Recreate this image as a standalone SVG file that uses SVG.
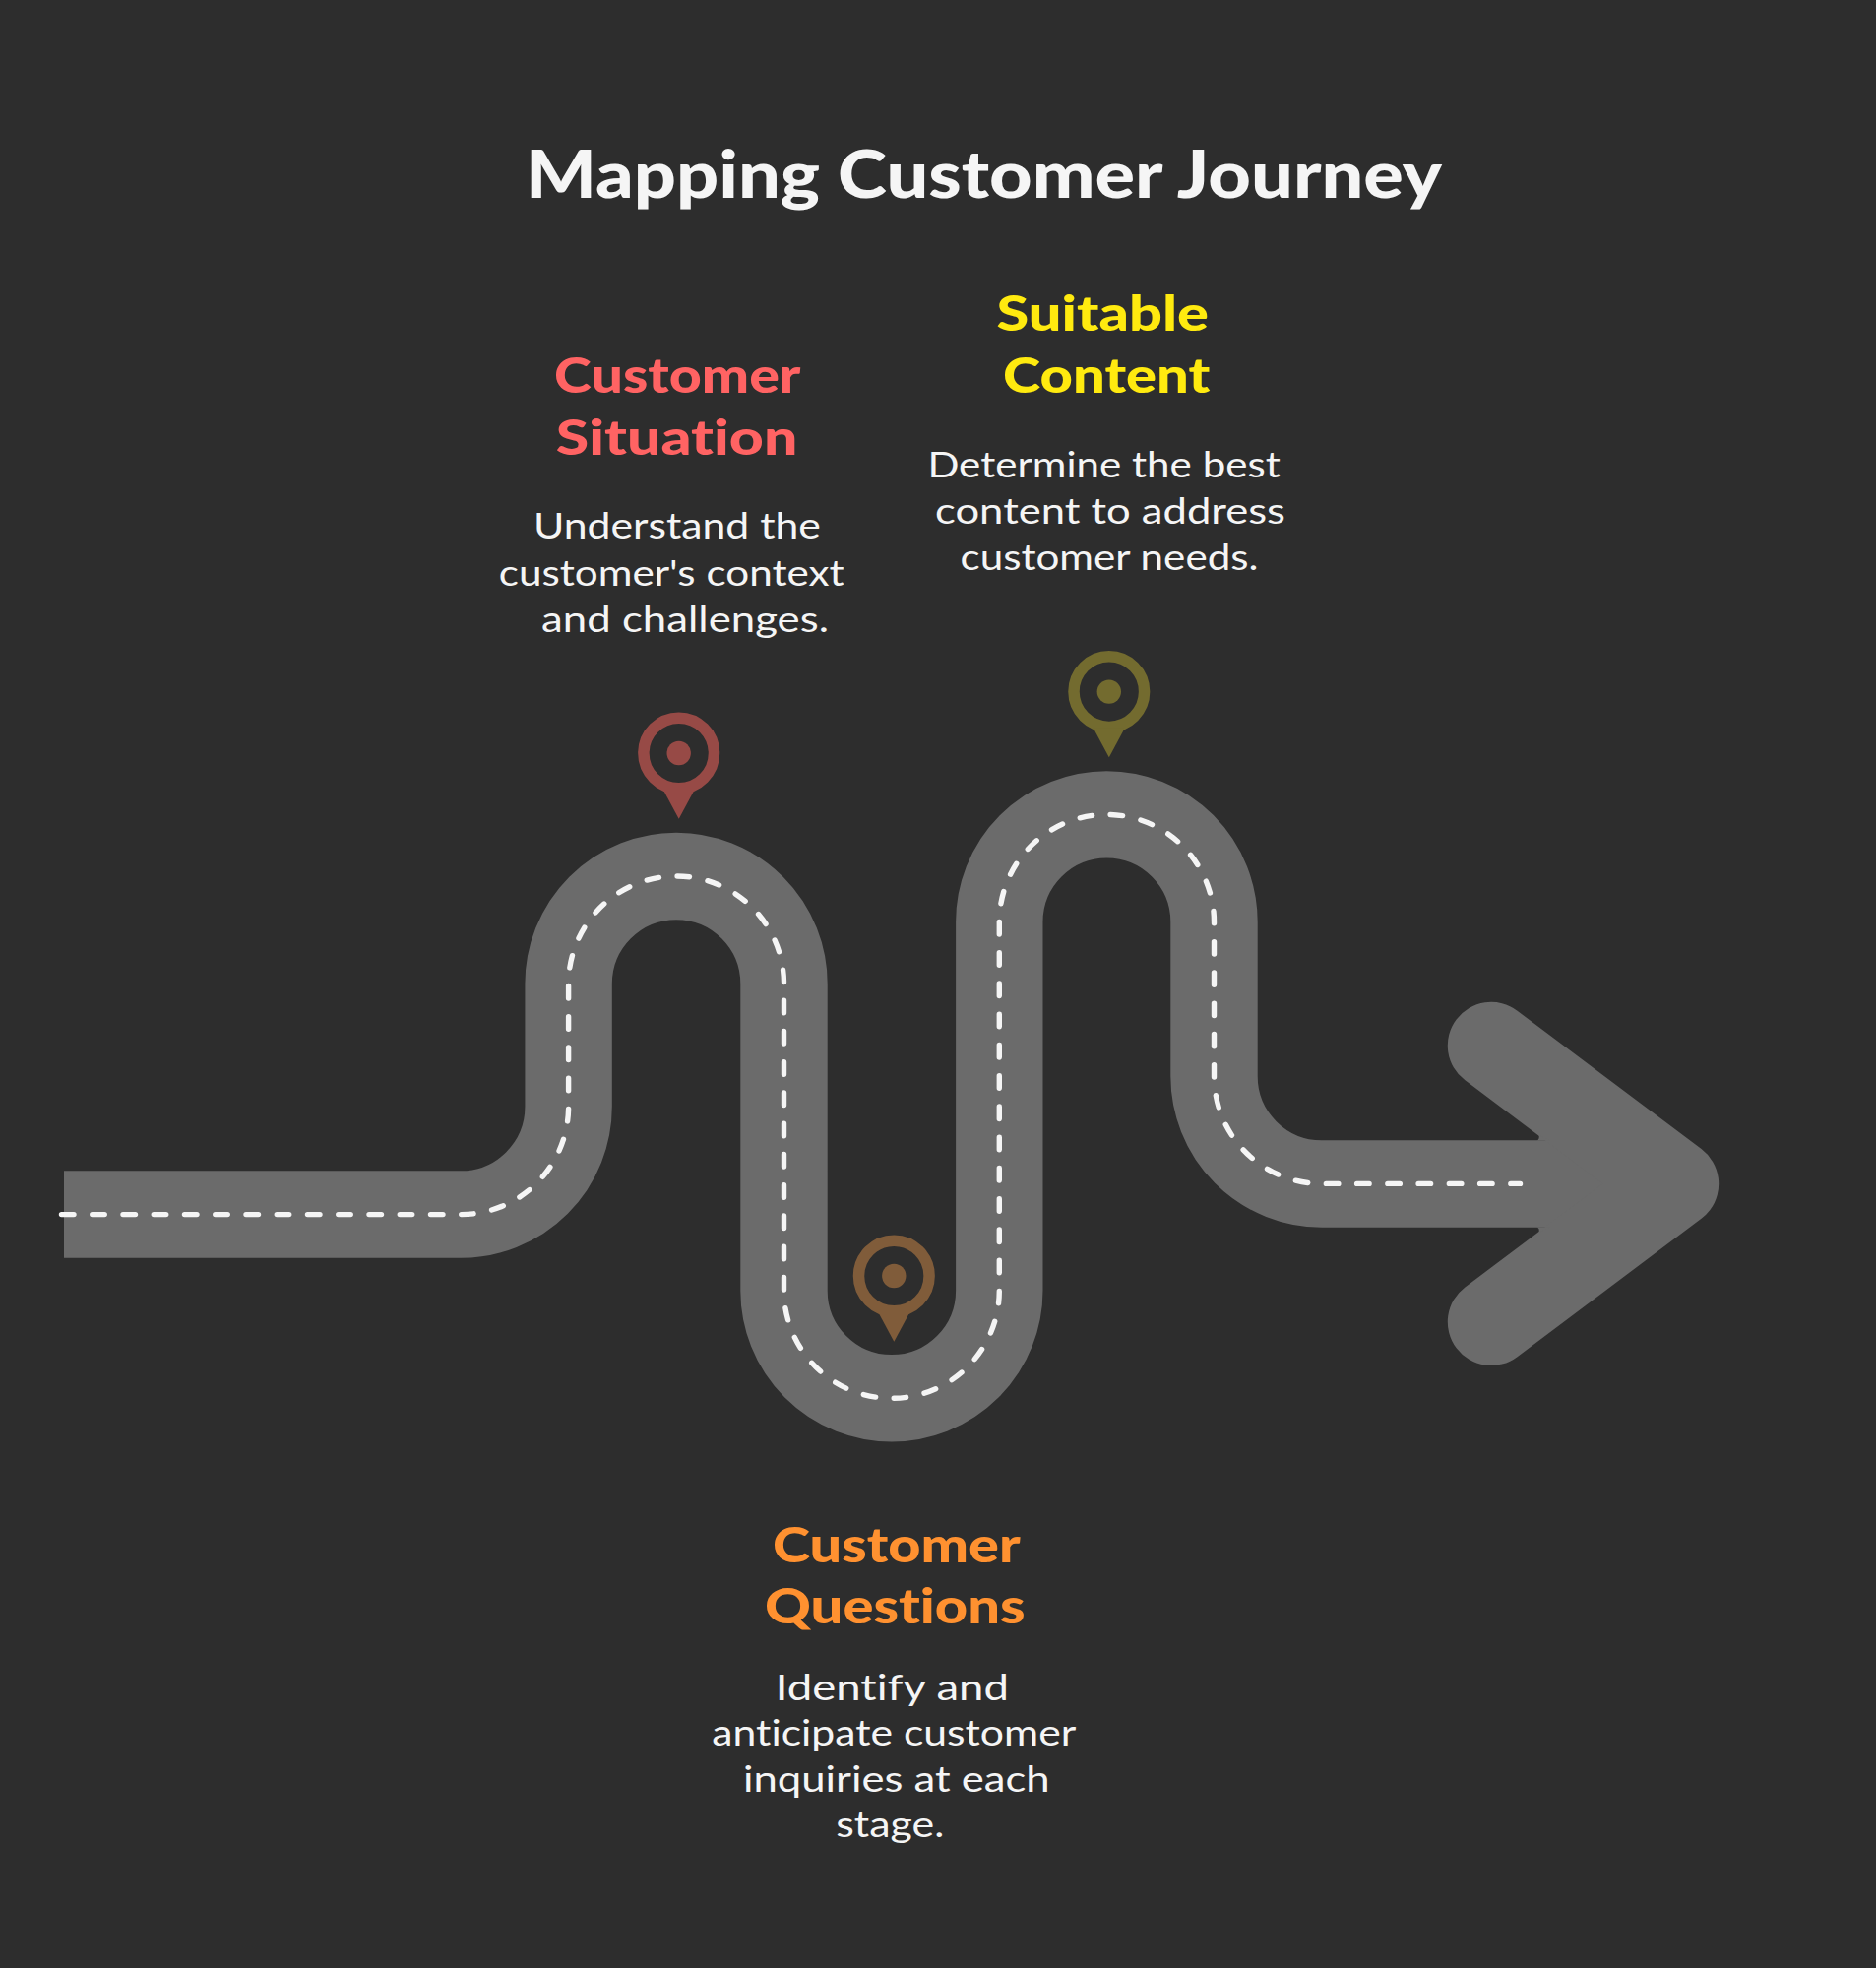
<svg xmlns="http://www.w3.org/2000/svg" width="1906" height="1999" viewBox="0 0 1906 1999">
<style>
text{font-family:"Lato","Noto Sans",sans-serif;font-variant-ligatures:none}
.t{font-size:66px;font-weight:900;fill:#f5f5f5}
.h{font-size:50px;font-weight:900}
.b{font-size:37px;font-weight:400;fill:#f5f5f5}
.road{fill:none;stroke:#6b6b6b;stroke-width:88.4}
.dash{fill:none;stroke:#f5f5f5;stroke-width:5.4;stroke-linecap:round;stroke-dasharray:12.5 18.75}
</style>
<defs>
<g id="pin">
<circle r="35.8" fill="none" stroke-width="11.5" stroke="currentColor"/>
<circle r="12.2" fill="currentColor"/>
<path d="M-16 37L0 66.7L16 37Z" fill="currentColor"/>
</g>
</defs>
<rect width="1906" height="1999" fill="#2d2d2d"/>
<g id="connectors">
<path class="road" d="M65 1233.5H468.2A109.4 109.4 0 0 0 577.6 1124.1V999.4A109.45 109.45 0 0 1 796.5 999.4V1311A109.4 109.4 0 0 0 1015.3 1311V936.5A109.1 109.1 0 0 1 1233.5 936.5V1093.1A109.4 109.4 0 0 0 1342.9 1202.5H1702"/>
<path class="road" stroke-linecap="round" stroke-linejoin="round" d="M1515 1062L1702 1202.4L1515 1342.8"/>
<path d="M1563.5 1153L1575 1158.4H1561.5Q1564.5 1157.5 1563.5 1153ZM1563.5 1252L1575 1246.6H1561.5Q1564.5 1247.5 1563.5 1252Z" fill="#6b6b6b"/>
<path class="dash" d="M62.5 1233.6H468.2A109.4 109.4 0 0 0 577.6 1124.1V999.4A109.45 109.45 0 0 1 796.5 999.4V1311A109.4 109.4 0 0 0 1015.3 1311V936.5A109.1 109.1 0 0 1 1233.5 936.5V1093.1A109.4 109.4 0 0 0 1342.9 1202.4H1544.5"/>
</g>
<g id="title"><text class="t" x="534" y="201" textLength="931" lengthAdjust="spacingAndGlyphs">Mapping Customer Journey</text></g>
<g id="node-situation">
<use href="#pin" x="689.7" y="765" color="#974a46"/>
<text class="h" fill="#ff6363" x="563" y="399.3" textLength="250.5" lengthAdjust="spacingAndGlyphs">Customer</text>
<text class="h" fill="#ff6363" x="564.8" y="461.8" textLength="245.6" lengthAdjust="spacingAndGlyphs">Situation</text>
<text class="b" x="541.9" y="547" textLength="292" lengthAdjust="spacingAndGlyphs">Understand the</text>
<text class="b" x="506.8" y="594.6" textLength="350.8" lengthAdjust="spacingAndGlyphs">customer's context</text>
<text class="b" x="550" y="642" textLength="292" lengthAdjust="spacingAndGlyphs">and challenges.</text>
</g>
<g id="node-questions">
<use href="#pin" x="908.3" y="1296" color="#805c3a"/>
<text class="h" fill="#ff9130" x="785" y="1586.5" textLength="251.7" lengthAdjust="spacingAndGlyphs">Customer</text>
<text class="h" fill="#ff9130" x="777" y="1648.5" textLength="264.7" lengthAdjust="spacingAndGlyphs">Questions</text>
<text class="b" x="787.7" y="1726.5" textLength="237.3" lengthAdjust="spacingAndGlyphs">Identify and</text>
<text class="b" x="723.3" y="1773.4" textLength="370" lengthAdjust="spacingAndGlyphs">anticipate customer</text>
<text class="b" x="755" y="1819.8" textLength="311.7" lengthAdjust="spacingAndGlyphs">inquiries at each</text>
<text class="b" x="849.3" y="1866.2" textLength="110" lengthAdjust="spacingAndGlyphs">stage.</text>
</g>
<g id="node-content">
<use href="#pin" x="1126.8" y="702.6" color="#736b2f"/>
<text class="h" fill="#ffea0f" x="1012.5" y="336.4" textLength="215.5" lengthAdjust="spacingAndGlyphs">Suitable</text>
<text class="h" fill="#ffea0f" x="1019" y="399.3" textLength="210.4" lengthAdjust="spacingAndGlyphs">Content</text>
<text class="b" x="942.4" y="485" textLength="358.4" lengthAdjust="spacingAndGlyphs">Determine the best</text>
<text class="b" x="950" y="532" textLength="356" lengthAdjust="spacingAndGlyphs">content to address</text>
<text class="b" x="975.5" y="578.6" textLength="303" lengthAdjust="spacingAndGlyphs">customer needs.</text>
</g>
</svg>
